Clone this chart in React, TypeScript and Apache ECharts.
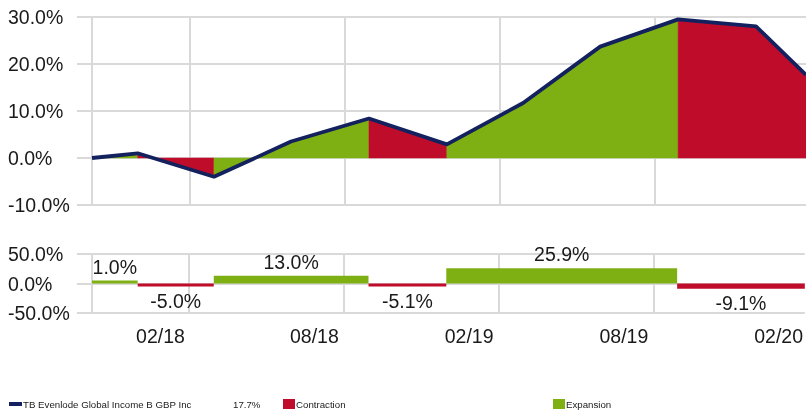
import React, { useEffect, useRef } from 'react';
import * as echarts from 'echarts';

// ---- data ----
const pointDates = ['2017-11-08', '2018-01-01', '2018-04-01', '2018-07-01', '2018-10-01', '2019-01-01', '2019-04-01', '2019-07-01', '2019-10-01', '2020-01-01', '2020-02-29'];
const cumulativeReturns = [0, 1.0, -4.0, 3.5, 8.4, 2.9, 11.7, 23.7, 29.5, 28.0, 17.7];

const periodStarts = ['2017-11-08', '2018-01-01', '2018-04-01', '2018-10-01', '2019-01-01', '2019-10-01'];
const periodEnds = ['2018-01-01', '2018-04-01', '2018-10-01', '2019-01-01', '2019-10-01', '2020-02-29'];
const periodReturns = [1.0, -5.0, 13.0, -5.1, 25.9, -9.1];

const gridDates = ['2017-11-08', '2018-03-03', '2018-09-02', '2019-03-04', '2019-09-03'];
const tickLabelDates = ['2018-01-28', '2018-07-29', '2019-01-28', '2019-07-30', '2020-01-29'];
const tickLabels = ['02/18', '08/18', '02/19', '08/19', '02/20'];

const seriesName = 'TB Evenlode Global Income B GBP Inc';
const latestReturn = '17.7%';
const legendContraction = 'Contraction';
const legendExpansion = 'Expansion';

// ---- styles ----
const NAVY = '#13215f';
const RED = '#c00c2b';
const GREEN = '#7eb014';
const GRID = '#d9d9d9';
const TEXT = '#1a1a1a';
const FONT = 'Liberation Sans, Arial, sans-serif';
const AXIS_FS = 19.5;

const ts = (d: string) => Date.parse(d + 'T00:00:00Z');

export default function App() {
  const ref = useRef<HTMLDivElement>(null);

  useEffect(() => {
    if (!ref.current) return;
    const chart = echarts.init(ref.current, undefined, { renderer: 'svg' });
    const xMin = ts(pointDates[0]);
    const xMax = ts(pointDates[pointDates.length - 1]);
    const labelVals = tickLabelDates.map(ts);

    const makeX = (gridIndex: number) => ({
      type: 'value',
      gridIndex,
      min: xMin,
      max: xMax,
      axisLine: { show: false },
      axisTick: { show: true, length: 14, lineStyle: { color: GRID, width: 2 }, customValues: gridDates.map(ts) },
      splitLine: { show: true, lineStyle: { color: GRID, width: 2 } },
      axisLabel: {
        show: gridIndex === 1,
        customValues: labelVals,
        fontSize: AXIS_FS,
        color: TEXT,
        fontFamily: FONT,
        margin: 13,
        formatter: (v: number) => {
          let best = 0;
          let bd = Infinity;
          labelVals.forEach((lv, i) => {
            const d = Math.abs(lv - v);
            if (d < bd) { bd = d; best = i; }
          });
          return tickLabels[best];
        },
      },
    });

    const makeY = (gridIndex: number, min: number, max: number, interval: number) => ({
      type: 'value',
      gridIndex,
      min,
      max,
      interval,
      axisLine: { show: false },
      axisTick: { show: true, length: 15, lineStyle: { color: GRID, width: 2 } },
      splitLine: { show: true, lineStyle: { color: GRID, width: 2 } },
      axisLabel: {
        align: 'left',
        margin: 84,
        fontSize: AXIS_FS,
        color: TEXT,
        fontFamily: FONT,
        formatter: (v: number) => v.toFixed(1) + '%',
      },
    });

    const segData = periodStarts.map((s, i) => [ts(s), ts(periodEnds[i]), periodReturns[i]]);
    const linePts = pointDates.map((d, i) => [ts(d), cumulativeReturns[i]]);

    const option: any = {
      animation: false,
      textStyle: { fontFamily: FONT },
      grid: [
        { left: 92, right: 0, top: 17, height: 188 },
        { left: 92, right: 0, top: 254, height: 59 },
      ],
      xAxis: [makeX(0), makeX(1)],
      yAxis: [makeY(0, -10, 30, 10), makeY(1, -50, 50, 50)],
      series: [
        {
          type: 'custom',
          xAxisIndex: 0,
          yAxisIndex: 0,
          z: 2,
          data: segData,
          renderItem: (params: any, api: any) => {
            const x0 = api.value(0);
            const x1 = api.value(1);
            const r = api.value(2);
            const pts: number[][] = [];
            linePts.forEach((p) => {
              if (p[0] >= x0 && p[0] <= x1) pts.push(api.coord(p));
            });
            pts.push(api.coord([x1, 0]));
            pts.push(api.coord([x0, 0]));
            return {
              type: 'polygon',
              shape: { points: pts },
              style: { fill: r >= 0 ? GREEN : RED, stroke: r >= 0 ? GREEN : RED, lineWidth: 0.5 },
            };
          },
        },
        {
          type: 'line',
          name: seriesName,
          xAxisIndex: 0,
          yAxisIndex: 0,
          z: 5,
          data: linePts,
          symbol: 'none',
          lineStyle: { color: NAVY, width: 3.8 },
          itemStyle: { color: NAVY },
        },
        {
          type: 'custom',
          xAxisIndex: 1,
          yAxisIndex: 1,
          z: 3,
          data: segData,
          renderItem: (params: any, api: any) => {
            const x0 = api.value(0);
            const x1 = api.value(1);
            const r = api.value(2);
            const a = api.coord([x0, 0]);
            const b = api.coord([x1, r]);
            let h = Math.abs(b[1] - a[1]);
            if (h < 3) h = 3;
            const y = r >= 0 ? a[1] - h : a[1];
            const cx = (a[0] + b[0]) / 2;
            return {
              type: 'group',
              children: [
                {
                  type: 'rect',
                  shape: { x: a[0], y, width: b[0] - a[0], height: h },
                  style: { fill: r >= 0 ? GREEN : RED },
                },
                {
                  type: 'text',
                  x: cx,
                  y: r >= 0 ? y - 4 : y + h + 4,
                  style: {
                    text: r.toFixed(1) + '%',
                    align: 'center',
                    verticalAlign: r >= 0 ? 'bottom' : 'top',
                    fontSize: AXIS_FS,
                    fontFamily: FONT,
                    fill: TEXT,
                  },
                },
              ],
            };
          },
        },
      ],
      graphic: [
        { type: 'rect', shape: { x: 9, y: 402, width: 13, height: 4 }, style: { fill: NAVY } },
        { type: 'text', x: 23, y: 404, style: { text: seriesName, fontSize: 9.7, fontFamily: FONT, fill: TEXT, align: 'left', verticalAlign: 'middle' } },
        { type: 'text', x: 233, y: 404, style: { text: latestReturn, fontSize: 9.7, fontFamily: FONT, fill: TEXT, align: 'left', verticalAlign: 'middle' } },
        { type: 'rect', shape: { x: 283, y: 399, width: 12, height: 10 }, style: { fill: RED } },
        { type: 'text', x: 296, y: 404, style: { text: legendContraction, fontSize: 9.7, fontFamily: FONT, fill: TEXT, align: 'left', verticalAlign: 'middle' } },
        { type: 'rect', shape: { x: 553, y: 399, width: 12, height: 10 }, style: { fill: GREEN } },
        { type: 'text', x: 566, y: 404, style: { text: legendExpansion, fontSize: 9.7, fontFamily: FONT, fill: TEXT, align: 'left', verticalAlign: 'middle' } },
      ],
    };

    chart.setOption(option);
    return () => chart.dispose();
  }, []);

  return <div ref={ref} style={{ position: 'fixed', left: 0, top: 0, width: 806, height: 410 }} />;
}
